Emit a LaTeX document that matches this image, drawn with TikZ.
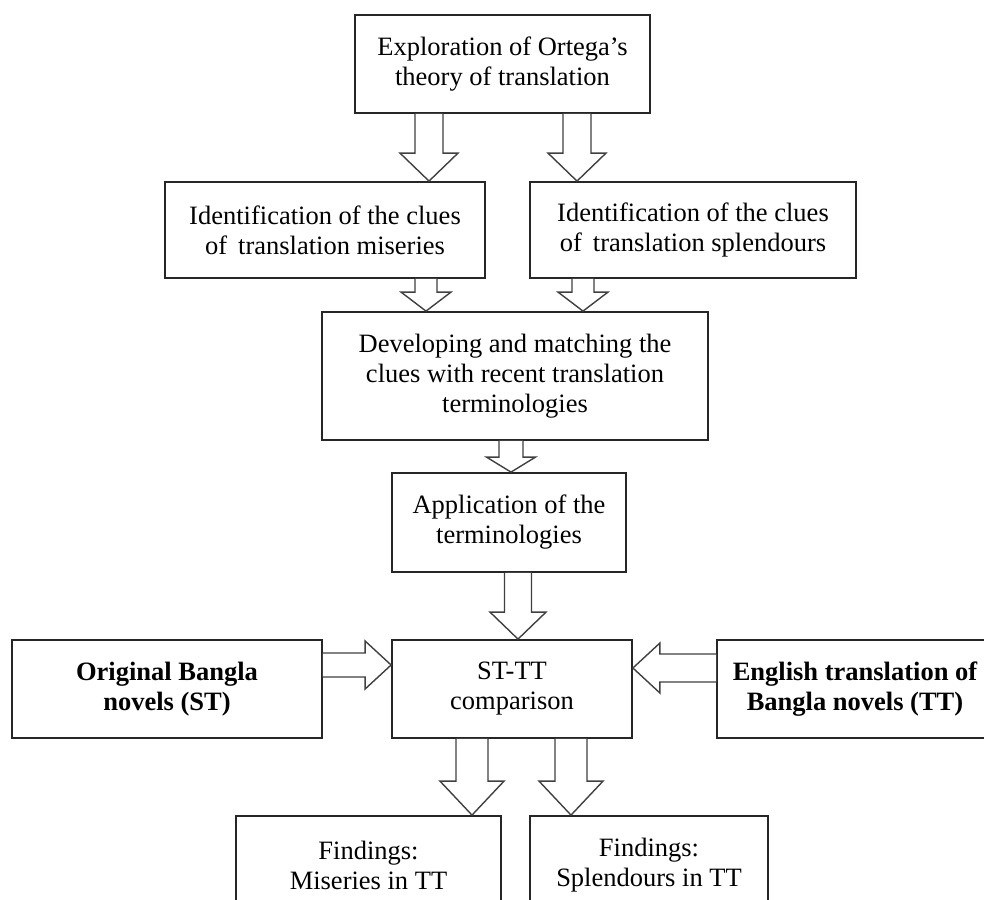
\documentclass[tikz,border=0pt]{standalone}
\usepackage{fontspec}
\setmainfont{Liberation Serif}
\usepackage{tikz}
\usetikzlibrary{calc}

% hollow block arrow, downwards: from, to, x centre, half shaft, half head, head length
\newcommand{\downblock}[6]{%
  \draw[blockarrow] let \p1=(#1), \p2=(#2) in
    (#3-#4,\y1) -- (#3-#4,\y2+#6pt) -- (#3-#5,\y2+#6pt) -- (#3,\y2)
    -- (#3+#5,\y2+#6pt) -- (#3+#4,\y2+#6pt) -- (#3+#4,\y1);}
% hollow block arrow, sideways: from, to, y centre, half shaft, half head, head length
\newcommand{\sideblock}[6]{%
  \draw[blockarrow] let \p1=(#1), \p2=(#2), \n1={sign(\x2-\x1)} in
    (\x1,#3-#4) -- (\x2-\n1*#6pt,#3-#4) -- (\x2-\n1*#6pt,#3-#5) -- (\x2,#3)
    -- (\x2-\n1*#6pt,#3+#5) -- (\x2-\n1*#6pt,#3+#4) -- (\x1,#3+#4);}

\begin{document}
\begin{tikzpicture}[
                x=1pt, y=-1pt,
                box/.style={rectangle, draw=black!85, line width=1.8pt, fill=white, align=center,
                            font=\fontsize{26.5}{30}\selectfont, inner sep=0pt}, % plain flow box
                boldbox/.style={box, font=\fontsize{26.5}{30}\selectfont\bfseries}, % side boxes
                blockarrow/.style={draw=black!75, line width=1.4pt, fill=white, line join=miter} % hollow arrow
                ]
                \useasboundingbox (0,0) rectangle (984,899);

                \node[box, minimum width=295pt, minimum height=98pt] (explore) at (502.5,64)
                    {Exploration of Ortega's\\theory of translation};
                \node[box, minimum width=320pt, minimum height=96pt] (miseries) at (325,230)
                    {Identification of the clues\\of \,translation miseries};
                \node[box, minimum width=326pt, minimum height=96pt] (splendours) at (693,230)
                    {Identification of the clues\\of \,translation splendours};
                \node[box, minimum width=386pt, minimum height=128pt] (develop) at (515,376)
                    {Developing and matching the\\clues with recent translation\\terminologies};
                \node[box, minimum width=234pt, minimum height=99pt] (apply) at (509,522.5)
                    {Application of the\\terminologies};
                \node[box, minimum width=240pt, minimum height=98pt] (compare) at (512,689)
                    {ST-TT\\comparison};
                \node[boldbox, minimum width=310pt, minimum height=98pt] (source) at (167,689)
                    {Original Bangla\\novels (ST)};
                \node[boldbox, minimum width=276pt, minimum height=98pt] (target) at (855,689)
                    {English translation of\\Bangla novels (TT)};
                \node[box, minimum width=265pt, minimum height=98pt] (findmis) at (368.5,865)
                    {Findings:\\Miseries in TT};
                \node[box, minimum width=238pt, minimum height=98pt] (findspl) at (649,865)
                    {Findings:\\Splendours in TT};

                % arrows between the boxes
                \downblock{explore.south}{miseries.north}{429}{14}{29}{28}
                \downblock{explore.south}{splendours.north}{577}{14}{29}{28}
                \downblock{miseries.south}{develop.north}{426}{11}{25}{19}
                \downblock{splendours.south}{develop.north}{583}{11}{25}{19}
                \downblock{develop.south}{apply.north}{511}{12}{24.5}{15}
                \downblock{apply.south}{compare.north}{518}{13.5}{28}{27}
                \sideblock{source.east}{compare.west}{665}{12}{24}{26}
                \sideblock{target.west}{compare.east}{668}{14}{25}{27}
                \downblock{compare.south}{findmis.north}{472}{16}{32}{34}
                \downblock{compare.south}{findspl.north}{571}{16}{32}{34}
            \end{tikzpicture}
\end{document}
